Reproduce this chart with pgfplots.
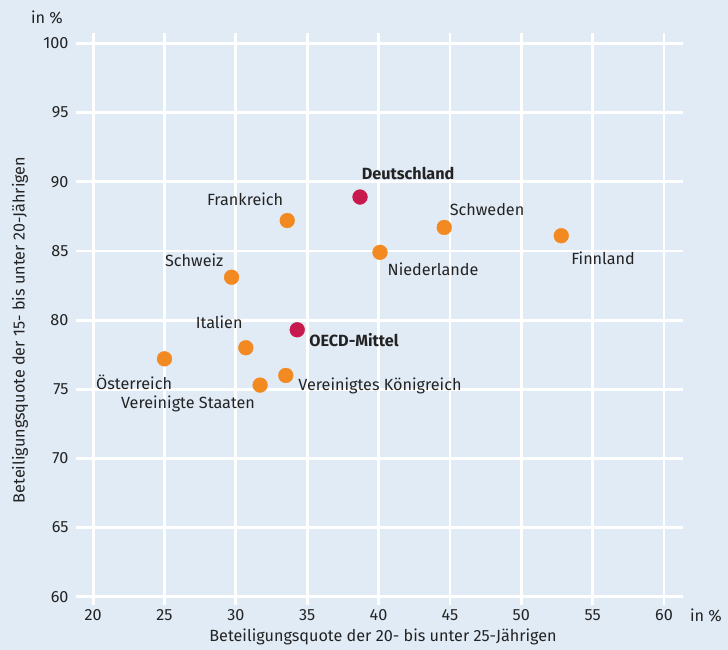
\documentclass[border=0pt]{standalone}
\usepackage{pgfplots}
\pgfplotsset{compat=1.18}
\usepackage{fontspec}
\setmainfont{Fira Sans}
\definecolor{bgc}{RGB}{225,235,246}
\definecolor{orng}{RGB}{243,137,33}
\definecolor{crim}{RGB}{200,25,78}
\definecolor{txt}{RGB}{35,35,35}
\newcommand{\fs}{\fontsize{16.2}{18}\selectfont}
\begin{document}
\begin{tikzpicture}
\fill[bgc] (-76pt,-45pt) rectangle (652pt,605pt);
\begin{axis}[
  scale only axis,
  width=607pt, height=572pt,
  xmin=18.8, xmax=61.33, ymin=59.4, ymax=100.76,
  xtick={20,25,...,60}, ytick={60,65,...,100},
  grid=major,
  major grid style={white, line width=2.8pt},
  axis line style={draw=none},
  tick style={draw=none},
  /pgf/number format/assume math mode=true,
  ticklabel style={font=\fs, text=txt},
  xticklabel style={yshift=-1pt},
  yticklabel style={xshift=-4pt},
  clip=false,
]
\addplot[only marks, mark=*, mark size=7.4pt, color=orng] coordinates {
 (33.6,87.2) (44.6,86.7) (52.8,86.1) (40.1,84.9) (29.7,83.1)
 (30.7,78.0) (25.0,77.2) (33.5,76.0) (31.7,75.3)
};
\addplot[only marks, mark=*, mark size=7.4pt, color=crim] coordinates {
 (38.7,88.9) (34.3,79.3)
};
\begin{scope}[every node/.style={font=\fs, text=txt}]
\node at (axis cs:42.07,90.62) {\bfseries Deutschland};
\node at (axis cs:30.65,88.73) {Frankreich};
\node at (axis cs:47.6,88.0) {Schweden};
\node at (axis cs:55.73,84.46) {Finnland};
\node at (axis cs:43.82,83.66) {Niederlande};
\node at (axis cs:27.08,84.31) {Schweiz};
\node at (axis cs:38.28,78.59) {\bfseries OECD-Mittel};
\node at (axis cs:28.83,79.82) {Italien};
\node at (axis cs:22.87,75.47) {Österreich};
\node at (axis cs:40.1,75.25) {Vereinigtes Königreich};
\node at (axis cs:26.65,73.95) {Vereinigte Staaten};
\end{scope}
\end{axis}
\begin{scope}[every node/.style={font=\fs, text=txt}]
\node at (-29pt,588pt) {in \%};
\node at (630pt,-10pt) {in \%};
\node[rotate=90] at (-56pt,275pt) {Beteiligungsquote der 15- bis unter 20-Jährigen};
\node at (307pt,-32pt) {Beteiligungsquote der 20- bis unter 25-Jährigen};
\end{scope}
\end{tikzpicture}
\end{document}
